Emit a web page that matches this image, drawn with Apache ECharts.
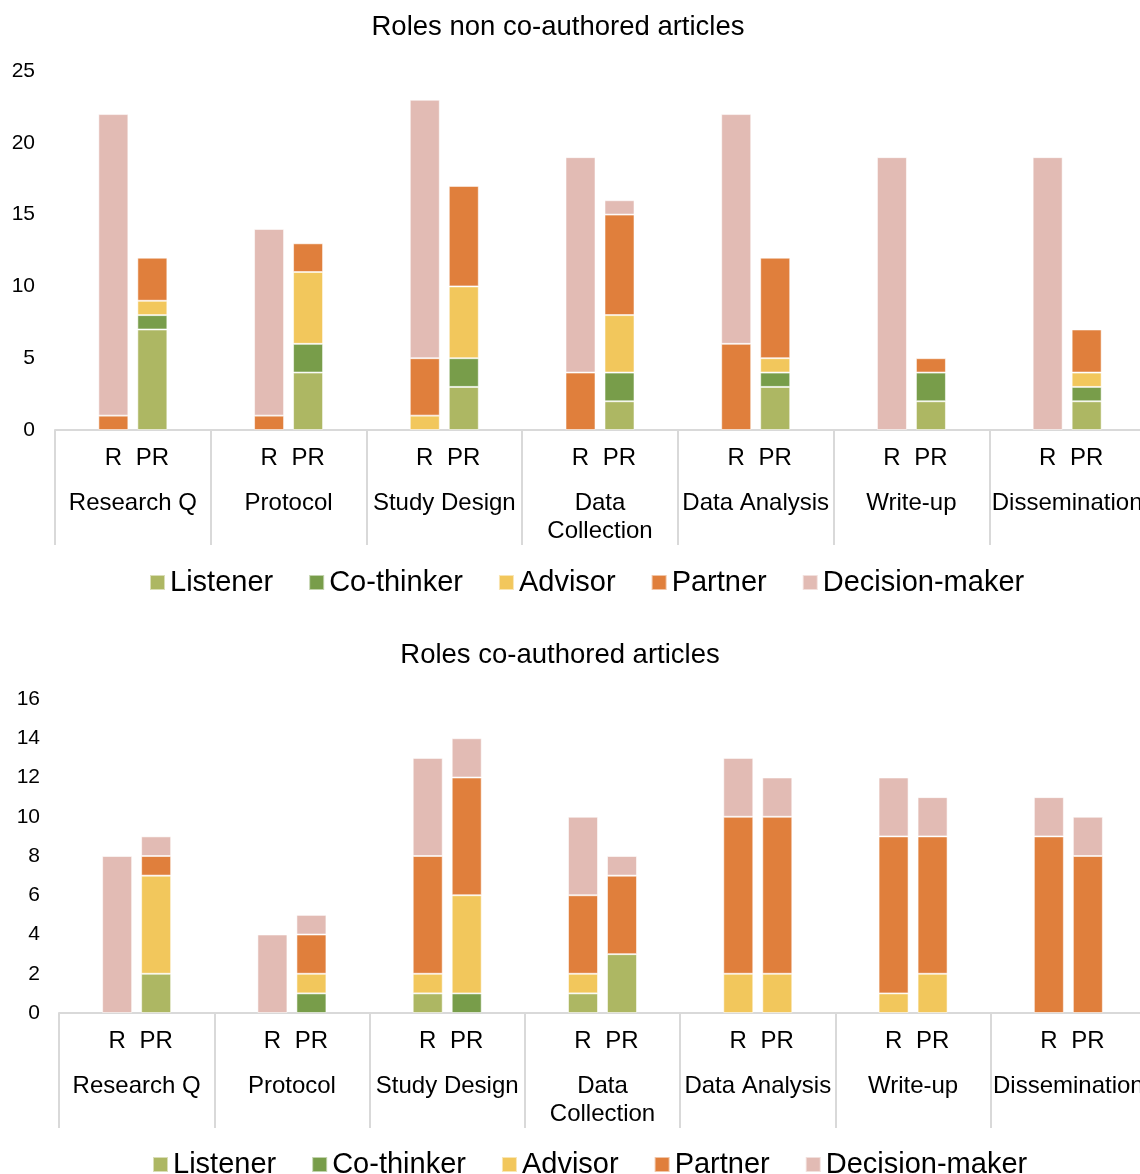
<!DOCTYPE html>
<html>
<head>
<meta charset="utf-8">
<script src="https://cdn.jsdelivr.net/npm/echarts@6/dist/echarts.min.js"></script>
<style>
  html, body { margin: 0; padding: 0; background: #ffffff; }
  #chart { width: 1140px; height: 1174px; }
</style>
</head>
<body>
<div id="chart"></div>
<script>
// Research stages (x categories) and participation roles (stack layers, bottom to top)
const stages = ['Research Q', 'Protocol', 'Study Design', 'Data\nCollection', 'Data Analysis', 'Write-up', 'Dissemination'];
const roles = ['Listener', 'Co-thinker', 'Advisor', 'Partner', 'Decision-maker'];
const roleColors = ['#adb763', '#789d4a', '#f2c75c', '#e07f3c', '#e2bbb4'];
const chartTitles = ['Roles non co-authored articles', 'Roles co-authored articles'];

// Non co-authored articles – R
const nonR_listener  = [0, 0, 0, 0, 0, 0, 0];
const nonR_cothinker = [0, 0, 0, 0, 0, 0, 0];
const nonR_advisor   = [0, 0, 1, 0, 0, 0, 0];
const nonR_partner   = [1, 1, 4, 4, 6, 0, 0];
const nonR_decision  = [21, 13, 18, 15, 16, 19, 19];
// Non co-authored articles – PR
const nonPR_listener  = [7, 4, 3, 2, 3, 2, 2];
const nonPR_cothinker = [1, 2, 2, 2, 1, 2, 1];
const nonPR_advisor   = [1, 5, 5, 4, 1, 0, 1];
const nonPR_partner   = [3, 2, 7, 7, 7, 1, 3];
const nonPR_decision  = [0, 0, 0, 1, 0, 0, 0];

// Co-authored articles – R
const coR_listener  = [0, 0, 1, 1, 0, 0, 0];
const coR_cothinker = [0, 0, 0, 0, 0, 0, 0];
const coR_advisor   = [0, 0, 1, 1, 2, 1, 0];
const coR_partner   = [0, 0, 6, 4, 8, 8, 9];
const coR_decision  = [8, 4, 5, 4, 3, 3, 2];
// Co-authored articles – PR
const coPR_listener  = [2, 0, 0, 3, 0, 0, 0];
const coPR_cothinker = [0, 1, 1, 0, 0, 0, 0];
const coPR_advisor   = [5, 1, 5, 0, 2, 2, 0];
const coPR_partner   = [1, 2, 6, 4, 8, 7, 8];
const coPR_decision  = [1, 1, 2, 1, 2, 2, 2];

// Value-axis ticks
const yTicks1 = { min: 0, max: 25, interval: 5 };
const yTicks2 = { min: 0, max: 16, interval: 2 };

const FONT = '"Liberation Sans", Arial, Helvetica, sans-serif';

const panels = [
  { R: [nonR_listener, nonR_cothinker, nonR_advisor, nonR_partner, nonR_decision],
    PR: [nonPR_listener, nonPR_cothinker, nonPR_advisor, nonPR_partner, nonPR_decision] },
  { R: [coR_listener, coR_cothinker, coR_advisor, coR_partner, coR_decision],
    PR: [coPR_listener, coPR_cothinker, coPR_advisor, coPR_partner, coPR_decision] }
];

const series = [];
panels.forEach((panel, p) => {
  ['R', 'PR'].forEach(stackKey => {
    panel[stackKey].forEach((values, r) => {
      series.push({
        type: 'bar',
        name: roles[r],
        xAxisIndex: p,
        yAxisIndex: p,
        stack: 'p' + p + stackKey,
        barWidth: 30,
        barGap: '30%',
        data: values.map(v => (v === 0 ? null : v)),
        itemStyle: {
          color: roleColors[r],
          borderColor: 'rgba(255,255,255,0.55)',
          borderWidth: 1
        },
        emphasis: { disabled: true }
      });
    });
  });
});

function stageLabel(value) {
  const lines = value.split('\n');
  return '{r|R}{p|PR}\n' + lines.map((l, i) => '{' + (i ? 'm' : 'n') + '|' + l + '}').join('\n');
}

const labelRich = {
  r: { width: 39, align: 'center', fontSize: 24, lineHeight: 56, color: '#000', fontFamily: FONT },
  p: { width: 39, align: 'center', fontSize: 24, lineHeight: 56, color: '#000', fontFamily: FONT },
  n: { align: 'center', fontSize: 24, lineHeight: 34, color: '#000', fontFamily: FONT },
  m: { align: 'center', fontSize: 24, lineHeight: 22, color: '#000', fontFamily: FONT }
};

function makeXAxis(gridIndex) {
  return {
    type: 'category',
    gridIndex: gridIndex,
    data: stages,
    axisLine: { lineStyle: { color: '#d9d9d9', width: 2 } },
    axisTick: { show: true, length: 115, lineStyle: { color: '#d9d9d9', width: 2 } },
    axisLabel: {
      interval: 0, margin: 0, color: '#000', fontSize: 24, fontFamily: FONT,
      formatter: stageLabel, rich: labelRich
    },
    splitLine: { show: false }
  };
}

function makeYAxis(gridIndex, ticks, margin) {
  return {
    type: 'value',
    gridIndex: gridIndex,
    min: ticks.min, max: ticks.max, interval: ticks.interval,
    axisLine: { show: false },
    axisTick: { show: false },
    splitLine: { show: false },
    axisLabel: { color: '#000', fontSize: 21, fontFamily: FONT, margin: margin }
  };
}

const legendBase = {
  data: roles,
  orient: 'horizontal',
  icon: 'rect',
  itemWidth: 15,
  itemHeight: 15,
  itemGap: 35,
  padding: 0,
  selectedMode: false,
  textStyle: { color: '#000', fontSize: 29, fontFamily: FONT }
};

const chart = echarts.init(document.getElementById('chart'), null, { renderer: 'canvas' });
chart.setOption({
  animation: false,
  backgroundColor: '#ffffff',
  textStyle: { fontFamily: FONT },
  grid: [
    { left: 55, top: 71, width: 1090, height: 359, containLabel: false, outerBoundsMode: 'none' },
    { left: 59, top: 699, width: 1087, height: 314, containLabel: false, outerBoundsMode: 'none' }
  ],
  xAxis: [makeXAxis(0), makeXAxis(1)],
  yAxis: [makeYAxis(0, yTicks1, 20), makeYAxis(1, yTicks2, 19)],
  legend: [
    Object.assign({}, legendBase, { left: 149, top: 568 }),
    Object.assign({}, legendBase, { left: 152, top: 1150 })
  ],
  graphic: [
    { type: 'text', x: 558, y: 27, silent: true,
      style: { text: chartTitles[0], font: '27.5px ' + FONT, fill: '#000', align: 'center', verticalAlign: 'middle' } },
    { type: 'text', x: 560, y: 655, silent: true,
      style: { text: chartTitles[1], font: '27.5px ' + FONT, fill: '#000', align: 'center', verticalAlign: 'middle' } }
  ],
  series: series
});
</script>
</body>
</html>
